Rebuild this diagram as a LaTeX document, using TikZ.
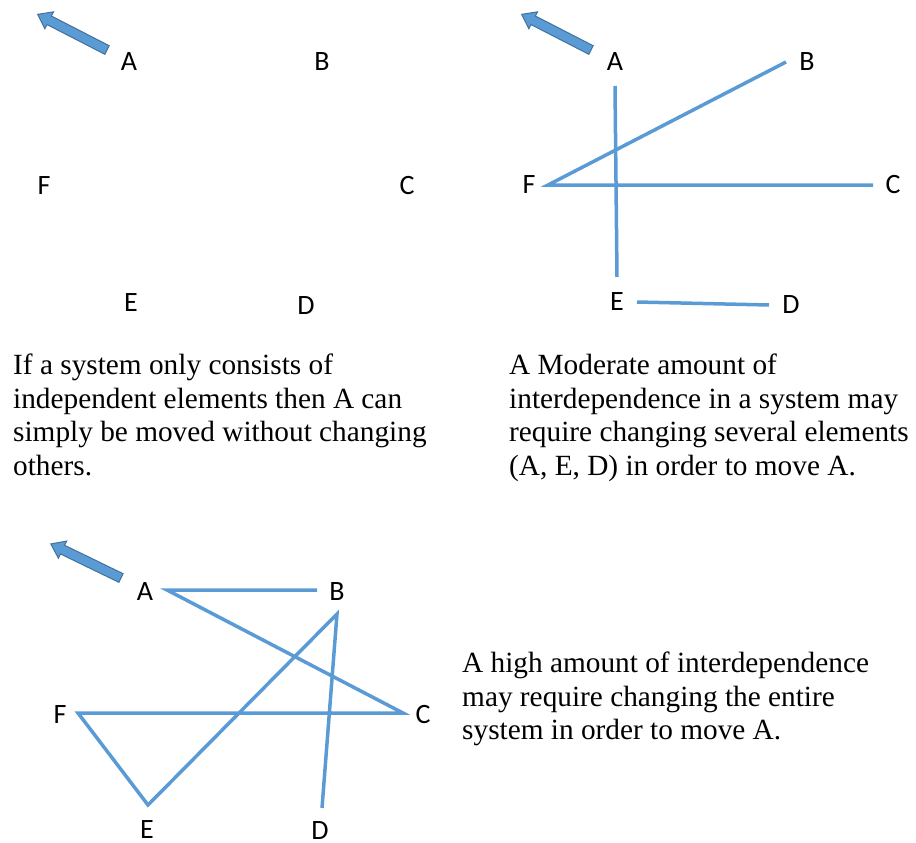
\documentclass[tikz,border=0pt]{standalone}
\usepackage{fontspec}
\setmainfont{Liberation Serif}
\newfontfamily\lblfont{Carlito}
\definecolor{lineblue}{HTML}{5B9BD5}
\definecolor{edgeblue}{HTML}{41719C}
\tikzset{
  lbl/.style={font=\lblfont\fontsize{28}{32}\selectfont, inner sep=0pt},
  link/.style={draw=lineblue, line width=3.5pt, line cap=butt, line join=miter},
  caption/.style={font=\fontsize{29.3}{33.5}\selectfont, align=left, anchor=north west, inner sep=0pt},
  movearrow/.style={draw=edgeblue, fill=lineblue, line width=1pt, line join=miter}
}
\newcommand{\blockarrow}{\path[movearrow] (0,-4.8) -- (65,-4.8) -- (65,-9.5) -- (78,0) -- (65,9.5) -- (65,4.8) -- (0,4.8) -- cycle;}
\begin{document}
\begin{tikzpicture}[x=1pt,y=-1pt]
\useasboundingbox (0,0) rectangle (916,843);
% Panel 1
\begin{scope}[shift={(107,50)}, rotate=152.8]\blockarrow\end{scope}
\node[lbl] (a1) at (129,62) {A};
\node[lbl] (b1) at (322,62) {B};
\node[lbl] (f1) at (44,186) {F};
\node[lbl] (c1) at (407,186) {C};
\node[lbl] (e1) at (131,303) {E};
\node[lbl] (d1) at (306,306) {D};
\node[caption] (t1) at (13,354) {If a system only consists of\\independent elements then A can\\simply be moved without changing\\others.};
% Panel 2
\begin{scope}[shift={(591,50)}, rotate=152.8]\blockarrow\end{scope}
\node[lbl] (a2) at (615,62) {A};
\node[lbl] (b2) at (807,62) {B};
\node[lbl] (f2) at (529,185) {F};
\node[lbl] (c2) at (893,185) {C};
\node[lbl] (e2) at (617,302) {E};
\node[lbl] (d2) at (791,305) {D};
\coordinate (a2s) at (615,86);
\coordinate (e2n) at (617,277);
\coordinate (b2s) at (786,62);
\coordinate (f2e) at (548,185);
\coordinate (c2w) at (873,185);
\coordinate (e2e) at (637,302);
\coordinate (d2w) at (769,305);
\draw[link] (a2s) -- (e2n);
\draw[link] (b2s) -- (f2e) -- (c2w);
\draw[link] (e2e) -- (d2w);
\node[caption] (t2) at (509,354) {A Moderate amount of\\interdependence in a system may\\require changing several elements\\(A, E, D) in order to move A.};
% Panel 3
\begin{scope}[shift={(121,578)}, rotate=154.1]\blockarrow\end{scope}
\node[lbl] (a3) at (145,592) {A};
\node[lbl] (b3) at (337,592) {B};
\node[lbl] (f3) at (60,715) {F};
\node[lbl] (c3) at (423,715) {C};
\node[lbl] (e3) at (147,830) {E};
\node[lbl] (d3) at (320,831) {D};
\coordinate (a3e) at (167,590);
\coordinate (b3w) at (317,590);
\coordinate (c3w) at (403,713);
\coordinate (f3e) at (78,713);
\coordinate (e3n) at (148,805);
\coordinate (b3s) at (337,614);
\coordinate (d3n) at (322,808);
\draw[link] (b3w) -- (a3e) -- (c3w) -- (f3e) -- (e3n) -- (b3s) -- (d3n);
\node[caption] (t3) at (462,652) {A high amount of interdependence\\may require changing the entire\\system in order to move A.};
\end{tikzpicture}
\end{document}
